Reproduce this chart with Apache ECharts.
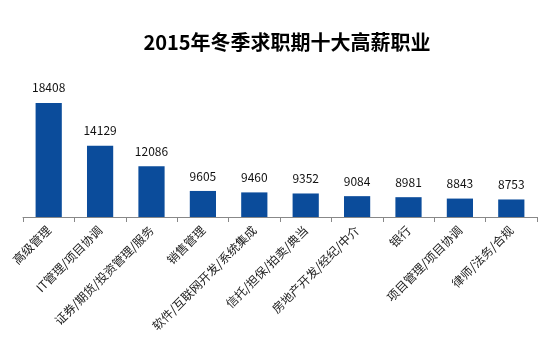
<!DOCTYPE html>
<html><head><meta charset="utf-8">
<script src="https://cdn.jsdelivr.net/npm/echarts@6/dist/echarts.min.js"></script>
<style>html,body{margin:0;padding:0;background:#fff}#c{width:542px;height:343px}</style>
</head><body><div id="c"></div>
<script>
const categories = ['高级管理','IT管理/项目协调','证券/期货/投资管理/服务','销售管理','软件/互联网开发/系统集成','信托/担保/拍卖/典当','房地产开发/经纪/中介','银行','项目管理/项目协调','律师/法务/合规'];
const salaries = [18408,14129,12086,9605,9460,9352,9084,8981,8843,8753];
const titleText = '2015年冬季求职期十大高薪职业';
const font = '"Noto Sans CJK SC", "Microsoft YaHei", sans-serif';
const chart = echarts.init(document.getElementById('c'));
chart.setOption({
  animation: false,
  title: { text: titleText, left: 282, textAlign: 'center', top: 27,
    textStyle: { fontFamily: font, fontSize: 20, fontWeight: 'bold', color: '#000' } },
  grid: { left: 23, right: 5, top: 87, bottom: 126 },
  xAxis: { type: 'category', data: categories,
    axisLine: { lineStyle: { color: '#888', width: 1 } },
    axisTick: { show: true, alignWithLabel: false, length: 5, lineStyle: { color: '#888' } },
    axisLabel: { interval: 0, rotate: 45, margin: 11, fontFamily: font, fontSize: 12, color: '#222' } },
  yAxis: { type: 'value', min: 7000, max: 20000, show: false, splitLine: { show: false } },
  series: [{ type: 'bar', data: salaries, barWidth: '51%',
    itemStyle: { color: '#0B4C9B' },
    label: { show: true, position: 'top', distance: 9, fontFamily: font, fontSize: 12, color: '#111' } }]
});
</script></body></html>
